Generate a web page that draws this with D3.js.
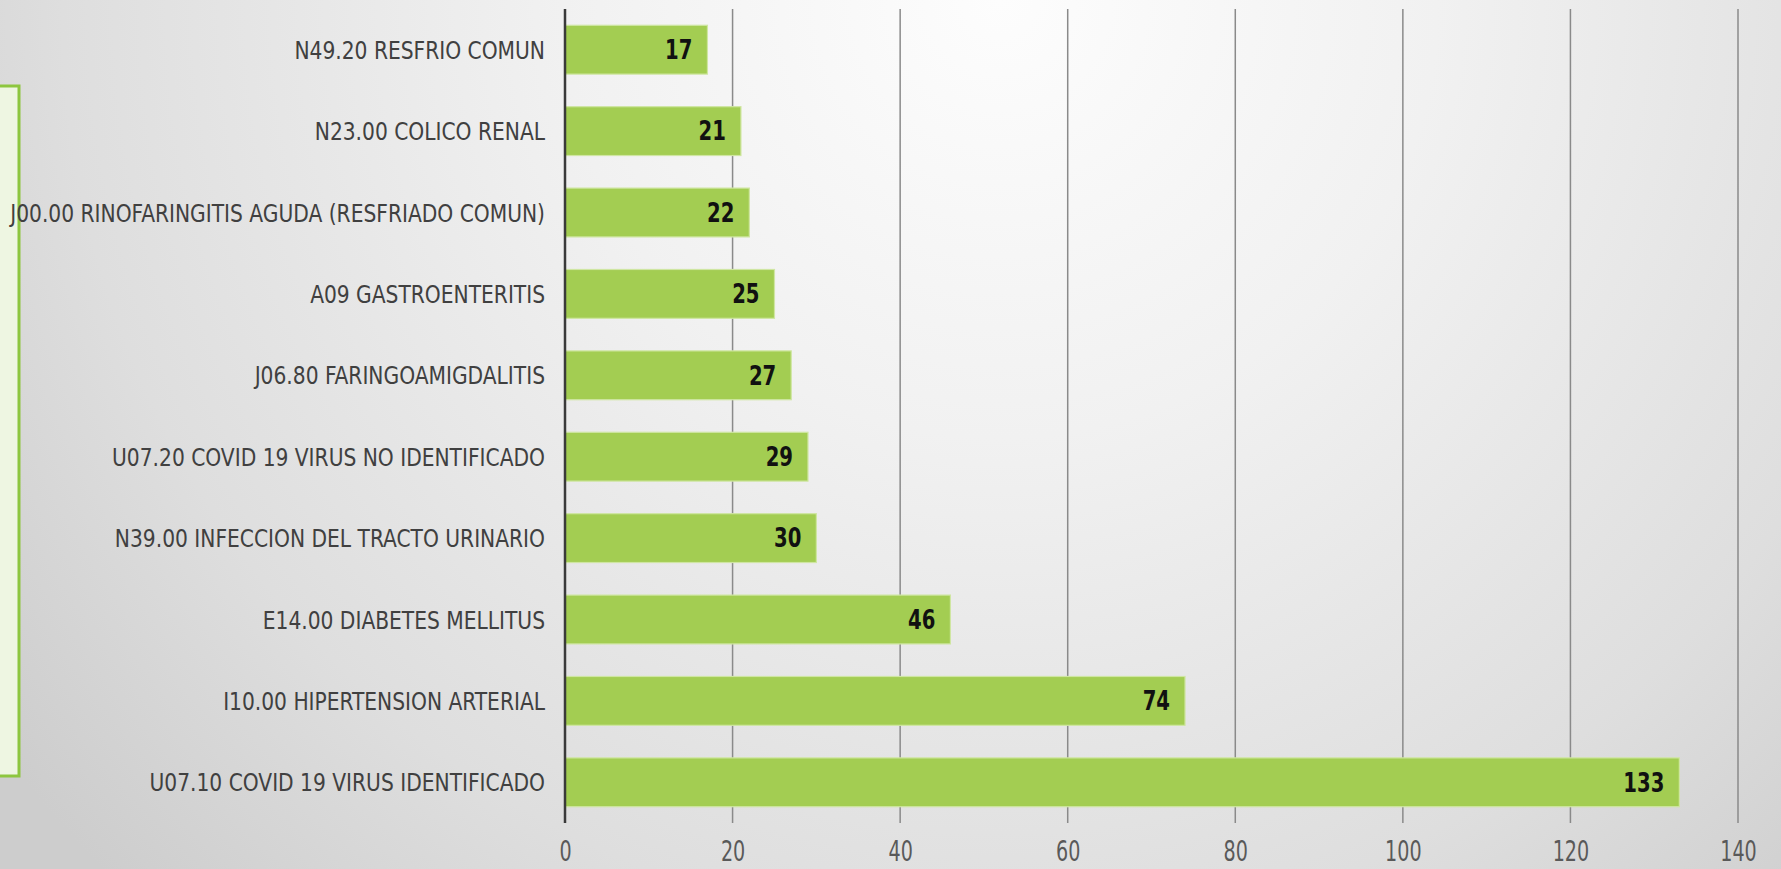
<!DOCTYPE html>
<html>
<head>
<meta charset="utf-8">
<script src="https://cdn.jsdelivr.net/npm/d3@7"></script>
<style>
html,body{margin:0;padding:0;overflow:hidden;}
svg{display:block;}
</style>
</head>
<body>
<svg id="chart" width="1781" height="869"></svg>
<script>
const categories = [
  "N49.20 RESFRIO COMUN",
  "N23.00 COLICO RENAL",
  "J00.00 RINOFARINGITIS AGUDA (RESFRIADO COMUN)",
  "A09 GASTROENTERITIS",
  "J06.80 FARINGOAMIGDALITIS",
  "U07.20 COVID 19 VIRUS NO IDENTIFICADO",
  "N39.00 INFECCION DEL TRACTO URINARIO",
  "E14.00 DIABETES MELLITUS",
  "I10.00 HIPERTENSION ARTERIAL",
  "U07.10 COVID 19 VIRUS IDENTIFICADO"
];
const values = [17, 21, 22, 25, 27, 29, 30, 46, 74, 133];
const tickValues = [0, 20, 40, 60, 80, 100, 120, 140];

const W = 1781, H = 869;
const svg = d3.select("#chart");
const FONT = "'Liberation Sans Narrow','DejaVu Sans Condensed','Liberation Sans',sans-serif";

// background
const defs = svg.append("defs");
const rg = defs.append("radialGradient").attr("id","bg")
  .attr("gradientUnits","userSpaceOnUse")
  .attr("cx", 1000).attr("cy", 0).attr("r", 1250);
rg.append("stop").attr("offset","0").attr("stop-color","#fdfdfd");
rg.append("stop").attr("offset","0.35").attr("stop-color","#f1f1f1");
rg.append("stop").attr("offset","0.75").attr("stop-color","#dedede");
rg.append("stop").attr("offset","1").attr("stop-color","#cdcdcd");
svg.append("rect").attr("width",W).attr("height",H).attr("fill","url(#bg)");

// left green box
svg.append("rect").attr("x",-10).attr("y",86).attr("width",29).attr("height",690)
  .attr("fill","#eef6e2").attr("stroke","#8dc63f").attr("stroke-width",3);

const x = d3.scaleLinear().domain([0,140]).range([565,1738]);
const y = d3.scaleBand().domain(categories).range([9,823]).paddingInner(0.4).paddingOuter(0.2);

// gridlines
svg.append("g").selectAll("line").data(tickValues.filter(d=>d>0)).join("line")
  .attr("x1",d=>x(d)).attr("x2",d=>x(d)).attr("y1",9).attr("y2",823)
  .attr("stroke","#8a8a8a").attr("stroke-width",1.5);

// bars
svg.append("g").selectAll("rect").data(values).join("rect")
  .attr("x", x(0)).attr("y",(d,i)=>y(categories[i]))
  .attr("width", d=>x(d)-x(0)).attr("height", y.bandwidth())
  .attr("fill","#a3cd52").attr("stroke","#cfe6a2").attr("stroke-width",1.2);

// axis line at 0
svg.append("line").attr("x1",x(0)).attr("x2",x(0)).attr("y1",9).attr("y2",823)
  .attr("stroke","#3a3a3a").attr("stroke-width",2.5);

// value labels
svg.append("g").selectAll("text").data(values).join("text")
  .attr("transform",(d,i)=>`translate(${x(d)-15},${y(categories[i])+y.bandwidth()/2}) scale(0.84,1)`)
  .attr("dy","0.36em").attr("text-anchor","end")
  .attr("font-family",FONT).attr("font-weight","bold").attr("font-size",26)
  .attr("fill","#111").text(d=>d);

// category labels
svg.append("g").selectAll("text").data(categories).join("text")
  .attr("transform", d=>`translate(545,${y(d)+y.bandwidth()/2}) scale(0.9,1)`)
  .attr("dy","0.36em").attr("text-anchor","end")
  .attr("font-family",FONT).attr("font-size",25)
  .attr("fill","#404040").text(d=>d);

// x tick labels
const xAxis = d3.axisBottom(x).tickValues(tickValues).tickSize(0).tickPadding(0);
const gx = svg.append("g").attr("transform","translate(0,851)").call(xAxis);
gx.select(".domain").remove();
gx.attr("font-size",null).attr("font-family",null);
gx.selectAll(".tick text")
  .attr("y",0).attr("dy","0.34em")
  .attr("transform","scale(0.76,1)")
  .style("font-family",FONT).style("font-size","28px").attr("fill","#595959");
</script>
</body>
</html>
